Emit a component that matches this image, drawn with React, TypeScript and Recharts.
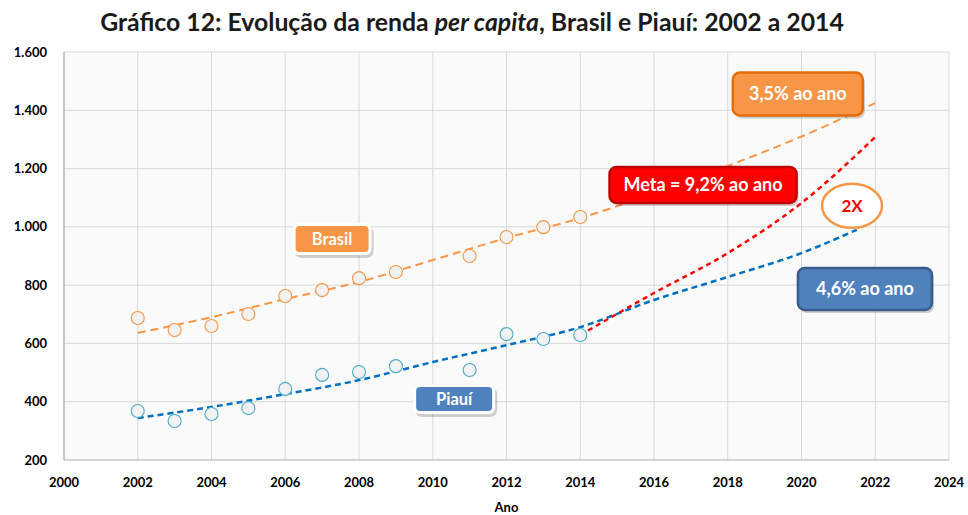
import React from "react"
import {
  ComposedChart, Line, Scatter, XAxis, YAxis, CartesianGrid, ReferenceDot,
} from "recharts"

// observed per capita income
const years = [2002, 2003, 2004, 2005, 2006, 2007, 2008, 2009, 2011, 2012, 2013, 2014]
const brasil = [687, 646, 660, 701, 763, 783, 824, 845, 900, 965, 999, 1034]
const piaui = [368, 334, 358, 378, 444, 492, 502, 522, 509, 632, 615, 629]

// trend lines
const trendYears = [2002, 2004, 2006, 2008, 2010, 2012, 2014, 2016, 2018, 2020, 2022]
const brasilTrend = [636, 690, 752, 811, 886, 962, 1030, 1115, 1209, 1310, 1425]
const piauiTrendYears = [2002, 2004, 2006, 2008, 2010, 2012, 2014, 2016, 2018, 2020, 2021.5]
const piauiTrend = [344, 382, 426, 474, 536, 594, 656, 749, 828, 910, 990]
const metaYears = [2014, 2016, 2018, 2020, 2022]
const metaTrend = [629, 773, 910, 1082, 1308]

const xTicks = [2000, 2002, 2004, 2006, 2008, 2010, 2012, 2014, 2016, 2018, 2020, 2022, 2024]
const yTicks = [200, 400, 600, 800, 1000, 1200, 1400, 1600]

const brasilPts = years.map((x, i) => ({ x, y: brasil[i] }))
const piauiPts = years.map((x, i) => ({ x, y: piaui[i] }))
const brasilLine = trendYears.map((x, i) => ({ x, y: brasilTrend[i] }))
const piauiLine = piauiTrendYears.map((x, i) => ({ x, y: piauiTrend[i] }))
const metaLine = metaYears.map((x, i) => ({ x, y: metaTrend[i] }))

const font = "Lato, 'Open Sans', sans-serif"

const fmt = (v: number) => (v >= 1000 ? `${Math.floor(v / 1000)}.${String(v % 1000).padStart(3, "0")}` : String(v))

const ring = (stroke: string) => (p: any) => (
  <circle cx={p.cx} cy={p.cy} r={6.5} fill="#F2F2F2" stroke={stroke} strokeWidth={1.1} />
)

function box(text: string, w: number, h: number, fill: string, border: string, white = false, size = 18) {
  return (p: any) => {
    const x = p.cx - w / 2
    const y = p.cy - h / 2
    return (
      <g>
        <rect x={x + 2} y={y + 3} width={w} height={h} rx={7} fill="#000" opacity={0.18} />
        {white ? (
          <>
            <rect x={x} y={y} width={w} height={h} rx={6} fill="#fff" />
            <rect x={x + 3} y={y + 3} width={w - 6} height={h - 6} rx={4} fill={fill} />
          </>
        ) : (
          <rect x={x} y={y} width={w} height={h} rx={7} fill={fill} stroke={border} strokeWidth={2.5} />
        )}
        <text x={p.cx} y={p.cy} dy="0.35em" textAnchor="middle" fill="#fff"
          fontFamily={font} fontWeight={700} fontSize={size}>{text}</text>
      </g>
    )
  }
}

const twoX = (p: any) => (
  <g>
    <ellipse cx={p.cx} cy={p.cy} rx={30} ry={22} fill="#fff" stroke="#F79646" strokeWidth={2.5} />
    <text x={p.cx} y={p.cy} dy="0.35em" textAnchor="middle" fill="#FF0000"
      fontFamily={font} fontWeight={700} fontSize={17}>2X</text>
  </g>
)

export default function App() {
  return (
    <div style={{ position: "absolute", left: 0, top: 0, width: 968, height: 515, background: "#fff" }}>
      <div style={{
        position: "absolute", top: 7, left: 0, width: 944, textAlign: "center",
        fontFamily: font, fontWeight: 700, fontSize: 24.8, color: "#1a1a1a",
      }}>
        Gráfico 12: Evolução da renda <i>per capita</i>, Brasil e Piauí: 2002 a 2014
      </div>

      <ComposedChart width={968} height={515} margin={{ top: 52, right: 19, left: 0, bottom: 10 }}>
        <CartesianGrid stroke="#D9D9D9" fill="#FAFAFA" />
        <XAxis dataKey="x" type="number" domain={[2000, 2024]} ticks={xTicks} height={45}
          tickLine={false} axisLine={{ stroke: "#BFBFBF" }} tickMargin={12}
          tick={{ fill: "#000", fontFamily: font, fontWeight: 700, fontSize: 13 }}
          label={{ value: "Ano", position: "insideBottom", offset: -7, fill: "#000", fontFamily: font, fontWeight: 700, fontSize: 13 }} />
        <YAxis type="number" domain={[200, 1600]} ticks={yTicks} width={64} tickFormatter={fmt}
          tickLine={false} axisLine={{ stroke: "#A6A6A6" }} tickMargin={11}
          tick={{ fill: "#000", fontFamily: font, fontWeight: 700, fontSize: 13 }} />

        <Line data={brasilLine} dataKey="y" type="monotone" stroke="#F79646" strokeWidth={2}
          strokeDasharray="8 5" dot={false} isAnimationActive={false} />
        <Line data={piauiLine} dataKey="y" type="monotone" stroke="#0070C0" strokeWidth={2.5}
          strokeDasharray="6 4" dot={false} isAnimationActive={false} />
        <Line data={metaLine} dataKey="y" type="monotone" stroke="#FF0000" strokeWidth={2.5}
          strokeDasharray="5 4" dot={false} isAnimationActive={false} />

        <Scatter data={brasilPts} dataKey="y" shape={ring("#F79646")} isAnimationActive={false} />
        <Scatter data={piauiPts} dataKey="y" shape={ring("#4BACC6")} isAnimationActive={false} />

        <ReferenceDot x={2019.9} y={1456} shape={box("3,5% ao ano", 130, 43, "#F79646", "#E46C0A")} />
        <ReferenceDot x={2017.33} y={1144} shape={box("Meta = 9,2% ao ano", 187, 36, "#FF0000", "#C00000")} />
        <ReferenceDot x={2021.37} y={1072} shape={twoX} />
        <ReferenceDot x={2021.72} y={787} shape={box("4,6% ao ano", 134, 42, "#4F81BD", "#385D8A")} />
        <ReferenceDot x={2007.27} y={958} shape={box("Brasil", 79, 32, "#F79646", "", true, 16.5)} />
        <ReferenceDot x={2010.58} y={409} shape={box("Piauí", 82, 30, "#4F81BD", "", true, 16.5)} />
      </ComposedChart>
    </div>
  )
}
